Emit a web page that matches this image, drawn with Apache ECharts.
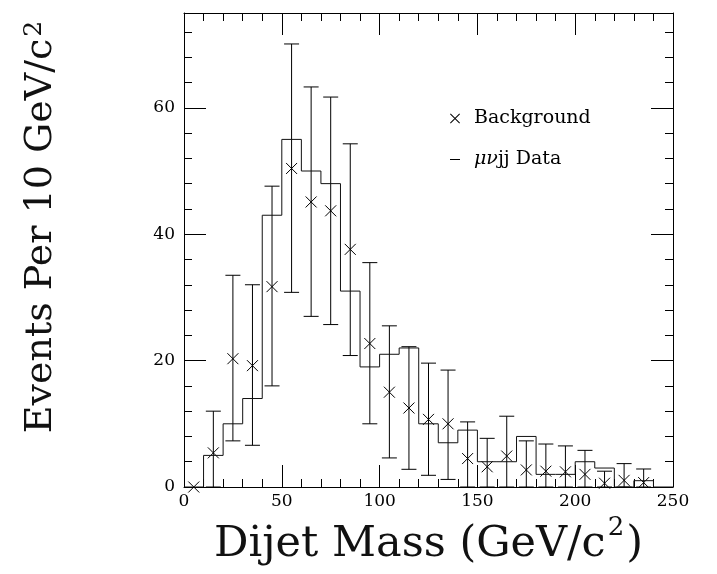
<!DOCTYPE html>
<html><head><meta charset="utf-8">
<script src="https://cdn.jsdelivr.net/npm/echarts@6/dist/echarts.min.js"></script>
<style>html,body{margin:0;padding:0;background:#fff}#c{width:717px;height:574px}</style>
</head><body><div id="c"></div>
<script>
// Histogram of mu-nu-jj data: bin edges and counts
const binEdges = [0,10,20,30,40,50,60,70,80,90,100,110,120,130,140,150,160,170,180,190,200,210,220,230,240,250];
const dataCounts = [0,5,10,14,43,55,50,48,31,19,21,22,10,7,9,4,4,8,2,2,4,3,0,1,0];
// Background expectation: bin centres, central values, error-bar low / high ends
const bgCenters = [5,15,25,35,45,55,65,75,85,95,105,115,125,135,145,155,165,175,185,195,205,215,225,235];
const bgValues  = [0,5.4,20.3,19.2,31.7,50.4,45.1,43.7,37.6,22.7,15.0,12.5,10.7,10.0,4.5,3.2,4.9,2.7,2.5,2.4,2.0,0.6,1.05,0.7];
const bgLow     = [0,0,7.3,6.6,16.0,30.8,27.0,25.7,20.8,10.0,4.6,2.8,1.85,1.2,0,0,0,0,0,0,0,0,0,0];
const bgHigh    = [0,12.0,33.5,32.0,47.6,70.1,63.3,61.7,54.3,35.5,25.5,22.2,19.6,18.5,10.3,7.7,11.2,7.3,6.8,6.5,5.8,2.5,3.7,2.85];
const xTicks = [0,50,100,150,200,250];
const yTicks = [0,20,40,60];

const FONT = 'DejaVu Serif';
const histData = binEdges.map((e, i) => [e, i < dataCounts.length ? dataCounts[i] : dataCounts[dataCounts.length - 1]]);
const bgData = bgCenters.map((c, i) => [c, bgValues[i], bgLow[i], bgHigh[i]]);

const chart = echarts.init(document.getElementById('c'), null, {renderer: 'canvas'});
const ink = '#000';
function xAxisCfg(pos, labels) {
  return {
    type: 'value', position: pos, min: 0, max: 250, interval: 50,
    axisLine: {show: true, onZero: false, lineStyle: {color: ink, width: 1}},
    axisTick: {show: true, inside: true, length: 22, lineStyle: {color: ink, width: 1}},
    minorTick: {show: true, splitNumber: 5, length: 8, lineStyle: {color: ink, width: 1}},
    axisLabel: labels ? {show: true, margin: 6, fontFamily: FONT, fontSize: 17, color: ink,
      formatter: v => xTicks.indexOf(v) >= 0 ? String(v) : ''} : {show: false},
    splitLine: {show: false}, minorSplitLine: {show: false}
  };
}
function yAxisCfg(pos, major, labels) {
  return {
    type: 'value', position: pos, min: 0, max: 75, interval: major ? 20 : 4,
    axisLine: {show: major, onZero: false, lineStyle: {color: ink, width: 1}},
    axisTick: {show: true, inside: true, length: major ? 22 : 8, lineStyle: {color: ink, width: 1}},
    axisLabel: labels ? {show: true, margin: 9, fontFamily: FONT, fontSize: 17, color: ink,
      formatter: v => yTicks.indexOf(v) >= 0 ? String(v) : ''} : {show: false},
    splitLine: {show: false}
  };
}
const xa0 = xAxisCfg('bottom', true);
xa0.name = 'Dijet Mass (GeV/c{sup|2})';
xa0.nameLocation = 'middle';
xa0.nameGap = 18;
xa0.nameTextStyle = {fontFamily: FONT, fontSize: 43, lineHeight: 60, color: '#111',
  rich: {sup: {fontFamily: FONT, fontSize: 26, lineHeight: 26, color: '#111', verticalAlign: 'top', padding: [0, 2, 0, 2]}}};
const ya0 = yAxisCfg('left', true, true);
ya0.name = 'Events Per 10 GeV/c{sup|2}';
ya0.nameLocation = 'middle';
ya0.nameRotate = 90;
ya0.nameGap = 124;
ya0.nameTextStyle = {fontFamily: FONT, fontSize: 38, color: '#111', padding: [0, 0, 0, 48],
  rich: {sup: {fontFamily: FONT, fontSize: 25, color: '#111', verticalAlign: 'top', padding: [0, 2, 0, 2]}}};

chart.setOption({
  animation: false,
  backgroundColor: '#fff',
  grid: {left: 184, right: 44, top: 13, bottom: 87, containLabel: false, outerBoundsMode: 'none'},
  xAxis: [xa0, xAxisCfg('top', false)],
  yAxis: [ya0, yAxisCfg('left', false, false), yAxisCfg('right', true, false), yAxisCfg('right', false, false)],
  legend: {
    orient: 'vertical', left: 450, top: 109, padding: 0, itemGap: 22,
    itemWidth: 10, itemHeight: 10, selectedMode: false,
    textStyle: {fontFamily: FONT, fontSize: 19, color: ink, padding: [0, 0, 0, 9],
      rich: {it: {fontFamily: FONT, fontSize: 19, fontStyle: 'italic', color: ink}}},
    formatter: n => n === 'μνjj Data' ? '{it|μν}jj Data' : n,
    data: [
      {name: 'Background', icon: 'path://M0,0.7L0.7,0L10,9.3L9.3,10Z M9.3,0L10,0.7L0.7,10L0,9.3Z', itemStyle: {color: ink}},
      {name: 'μνjj Data', icon: 'path://M0,4.5L10,4.5L10,5.5L0,5.5Z', itemStyle: {color: ink}}
    ]
  },
  series: [
    {
      name: 'μνjj Data', type: 'line', step: 'end', xAxisIndex: 0, yAxisIndex: 0,
      data: histData, showSymbol: false, symbol: 'none',
      lineStyle: {color: '#111', width: 1}, itemStyle: {color: ink}, silent: true
    },
    {
      name: 'Background', type: 'custom', xAxisIndex: 0, yAxisIndex: 0, clip: false,
      itemStyle: {color: ink}, silent: true,
      data: bgData,
      renderItem: function (params, api) {
        const x = api.value(0), v = api.value(1), lo = api.value(2), hi = api.value(3);
        const p = api.coord([x, v]);
        const s = 5.5, cap = 7.5;
        const st = {stroke: ink, lineWidth: 1, fill: null};
        const ch = [
          {type: 'line', shape: {x1: p[0] - s, y1: p[1] - s, x2: p[0] + s, y2: p[1] + s}, style: st},
          {type: 'line', shape: {x1: p[0] - s, y1: p[1] + s, x2: p[0] + s, y2: p[1] - s}, style: st}
        ];
        if (hi > lo) {
          const pl = api.coord([x, lo]), ph = api.coord([x, hi]);
          ch.push({type: 'line', shape: {x1: p[0], y1: pl[1], x2: p[0], y2: ph[1]}, style: st});
          ch.push({type: 'line', shape: {x1: p[0] - cap, y1: ph[1], x2: p[0] + cap, y2: ph[1]}, style: st});
          ch.push({type: 'line', shape: {x1: p[0] - cap, y1: pl[1], x2: p[0] + cap, y2: pl[1]}, style: st});
        }
        return {type: 'group', children: ch};
      }
    }
  ]
});
</script>
</body></html>
